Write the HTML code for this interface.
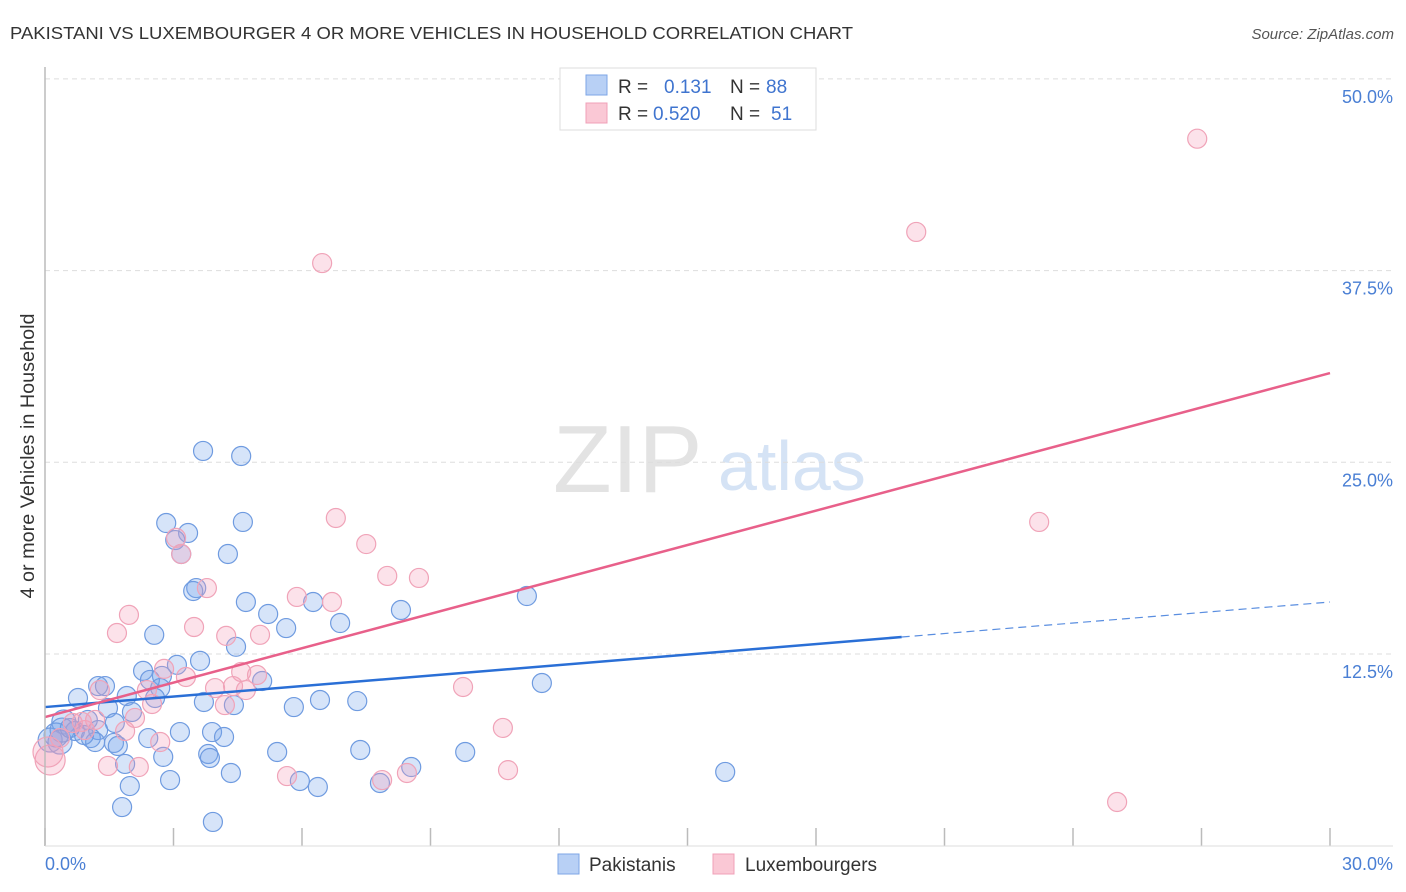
<!DOCTYPE html>
<html><head><meta charset="utf-8"><style>
body{margin:0;background:#fff;font-family:"Liberation Sans",sans-serif;}
#wrap{position:relative;width:1406px;height:892px;overflow:hidden;}
svg text{font-family:"Liberation Sans",sans-serif;}
</style></head><body>
<div id="wrap">
<svg id="svg" width="1406" height="892">
<text x="10" y="39" font-size="17.5" fill="#333" textLength="843" lengthAdjust="spacingAndGlyphs">PAKISTANI VS LUXEMBOURGER 4 OR MORE VEHICLES IN HOUSEHOLD CORRELATION CHART</text>
<text x="1394" y="39" font-size="15" fill="#555" text-anchor="end" font-style="italic">Source: ZipAtlas.com</text>
<text x="34" y="456" font-size="19" fill="#333" text-anchor="middle" textLength="285" lengthAdjust="spacingAndGlyphs" transform="rotate(-90 34 456)">4 or more Vehicles in Household</text>
<g>
<text x="553" y="492" font-size="96" fill="#e3e3e3" font-family="Liberation Serif,serif">ZIP</text>
<text x="718" y="490" font-size="70" fill="#d5e3f5">atlas</text>
</g>
<g id="grid"></g><g id="ticks"></g><g id="pts"></g><g id="lines"></g>
<line x1="45" y1="67" x2="45" y2="846" stroke="#bbb" stroke-width="1.5"/>
<line x1="45" y1="846" x2="1393" y2="846" stroke="#ddd"/>
<text x="45" y="870" font-size="18" fill="#4a7fd4">0.0%</text>
<text x="1393" y="870" font-size="18" fill="#4a7fd4" text-anchor="end">30.0%</text>
<g>
<rect x="560" y="68" width="256" height="62" fill="#fff" stroke="#ddd"/>
<rect x="586" y="75" width="21" height="20" fill="#b8d0f5" stroke="#7ea6e6"/>
<rect x="586" y="103" width="21" height="20" fill="#fac8d5" stroke="#f0a0b8"/>
<text x="618" y="93" font-size="19" fill="#333">R =</text><text x="664" y="93" font-size="19" fill="#3f74cf">0.131</text>
<text x="730" y="93" font-size="19" fill="#333">N =</text><text x="766" y="93" font-size="19" fill="#3f74cf">88</text>
<text x="618" y="120" font-size="19" fill="#333">R =</text><text x="653" y="120" font-size="19" fill="#3f74cf">0.520</text>
<text x="730" y="120" font-size="19" fill="#333">N =</text><text x="771" y="120" font-size="19" fill="#3f74cf">51</text>
</g>
<g>
<rect x="558" y="854" width="21" height="20" fill="#b8d0f5" stroke="#7ea6e6"/>
<text x="589" y="871" font-size="19" fill="#333">Pakistanis</text>
<rect x="713" y="854" width="21" height="20" fill="#fac8d5" stroke="#f0a0b8"/>
<text x="745" y="871" font-size="19" fill="#333">Luxembourgers</text>
</g>
</svg>
</div>
<script>
const yTicks=[12.5,25,37.5,50];
const yTickLabels=["12.5%","25.0%","37.5%","50.0%"];
const xTicks=[0,3,6,9,12,15,18,21,24,27,30];
const blueX=[3.69,4.58,2.83,4.62,3.34,3.04,3.18,4.27,3.53,3.46,4.69,5.21,6.26,5.63,6.89,8.31,11.25,2.55,4.46,3.62,3.08,2.29,2.73,2.45,5.07,1.91,0.77,1.24,1.40,2.69,1.47,2.03,2.57,3.71,4.41,5.81,6.42,7.29,11.60,0.44,1.00,1.63,1.24,0.70,1.07,1.17,1.61,1.70,0.91,0.26,0.12,0.35,2.41,3.15,3.90,4.18,2.76,1.87,3.81,3.85,5.42,7.36,9.81,15.88,8.55,4.34,2.92,1.98,5.95,6.37,7.82,1.80,3.92,0.40,0.58];
const blueY=[25.74,25.41,21.04,21.11,20.39,19.93,19.02,19.02,16.80,16.61,15.89,15.11,15.89,14.19,14.52,15.37,16.28,13.75,12.97,12.05,11.79,11.40,11.07,10.81,10.74,9.76,9.63,10.41,10.41,10.28,8.98,8.72,9.63,9.37,9.17,9.04,9.50,9.43,10.61,8.07,8.20,8.00,7.54,7.48,7.02,6.76,6.70,6.50,7.22,7.22,6.89,6.76,7.02,7.41,7.41,7.09,5.79,5.33,5.98,5.72,6.11,6.24,6.11,4.81,5.13,4.74,4.28,3.89,4.22,3.83,4.09,2.52,1.55,7.54,7.67];
const pinkX=[26.90,20.34,6.47,6.79,7.50,7.99,8.73,3.06,3.18,3.78,5.88,6.70,1.96,1.68,3.48,4.23,5.02,2.78,3.29,4.58,4.95,3.97,4.39,4.69,9.76,2.38,2.50,2.10,1.28,1.87,2.69,0.65,0.93,0.35,10.69,1.47,2.19,5.65,7.87,8.45,10.81,25.03,23.21,4.20,0.12,0.07,1.17,0.86];
const pinkY=[46.10,40.02,37.99,21.37,19.67,17.59,17.46,20.07,19.02,16.80,16.22,15.89,15.05,13.87,14.26,13.68,13.75,11.53,11.00,11.33,11.13,10.28,10.41,10.15,10.35,10.15,9.24,8.33,10.15,7.48,6.76,8.00,7.54,7.02,7.68,5.20,5.13,4.54,4.28,4.74,4.93,2.85,21.11,9.17,5.59,6.11,8.20,8.07];
const blueTrend=[9.04,15.89];
const pinkTrend=[8.39,30.82];
const blueSolidEnd=20;
const X=v=>45+v/30*1285;
const Y=v=>845.7-v*15.336;
const NS="http://www.w3.org/2000/svg";
function mk(t,a,p){const e=document.createElementNS(NS,t);for(const k in a)e.setAttribute(k,a[k]);p.appendChild(e);return e;}
const grid=document.getElementById('grid'),ticks=document.getElementById('ticks'),pts=document.getElementById('pts'),lines=document.getElementById('lines');
yTicks.forEach((v,i)=>{
 const l=mk('line',{x1:45,x2:1393,y1:Y(v),y2:Y(v),stroke:'#ddd','stroke-dasharray':'5,4'},grid);
 
 
 const t=mk('text',{x:1393,y:Y(v)+24,'font-size':18,fill:'#4a7fd4','text-anchor':'end'},grid);
 t.textContent=yTickLabels[i];
 
 
});
xTicks.forEach(v=>{
 const l=mk('line',{x1:X(v),x2:X(v),y1:828,y2:846,stroke:'#bbb','stroke-width':1.5},ticks);
 
 
});
function dot(x,y,fill,stroke,r){
 const c=mk('circle',{cx:X(x),cy:Y(y),r:r,fill:fill,stroke:stroke,'stroke-width':1.2},pts);
 return c;
}
blueX.forEach((x,i)=>{
 const c=dot(x,blueY[i],'rgba(120,165,235,0.3)','#6f9be0',x<0.5?12:9.5);
 
 
});
pinkX.forEach((x,i)=>{
 const c=dot(x,pinkY[i],'rgba(245,160,185,0.3)','#f0a3b8',x<0.2?15:9.5);
 
 
});
const bAt=x=>blueTrend[0]+(blueTrend[1]-blueTrend[0])*x/30;
let l1=mk('line',{x1:X(0),y1:Y(bAt(0)),x2:X(blueSolidEnd),y2:Y(bAt(blueSolidEnd)),stroke:'#2a6fd6','stroke-width':2.5},lines);


let l2=mk('line',{x1:X(blueSolidEnd),y1:Y(bAt(blueSolidEnd)),x2:X(30),y2:Y(bAt(30)),stroke:'#5a8ee0','stroke-width':1.2,'stroke-dasharray':'8,5'},lines);


let l3=mk('line',{x1:X(0),y1:Y(pinkTrend[0]),x2:X(30),y2:Y(pinkTrend[1]),stroke:'#e8608a','stroke-width':2.5},lines);


</script>
</body></html>
